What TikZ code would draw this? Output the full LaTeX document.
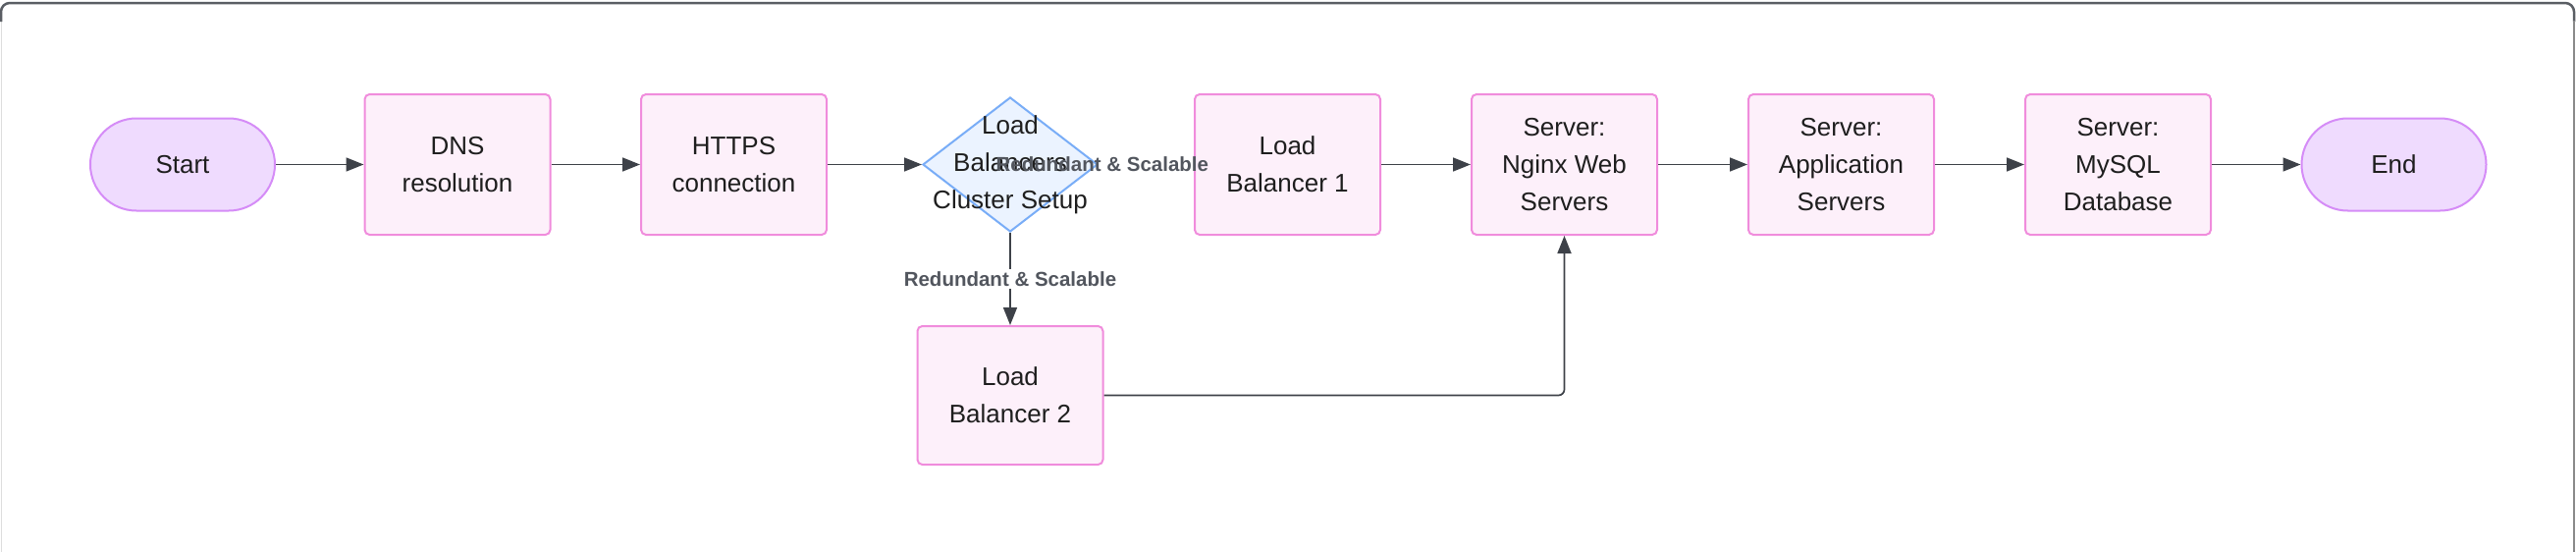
\documentclass[tikz,border=0pt]{standalone}
\usepackage{fontspec}
\setmainfont{Liberation Sans}
\usetikzlibrary{arrows.meta,shapes.geometric}
\definecolor{boxfill}{HTML}{FDF0FA}
\definecolor{boxdraw}{HTML}{F08CDC}
\definecolor{termfill}{HTML}{EFDBFE}
\definecolor{termdraw}{HTML}{D58CF7}
\definecolor{diafill}{HTML}{EBF3FF}
\definecolor{diadraw}{HTML}{79ADF7}
\definecolor{arr}{HTML}{3D4148}
\definecolor{lab}{HTML}{52565E}
\definecolor{txt}{HTML}{1E1E1E}
\definecolor{framedark}{HTML}{5A5E64}
\definecolor{framelight}{HTML}{DDDDDD}
\definecolor{framegray}{HTML}{8A8A8A}
\newcommand\mynodefont{\fontsize{26}{38}\selectfont}
\newcommand\mylabelfont{\fontsize{20.5}{24}\selectfont\bfseries}
\begin{document}
\begin{tikzpicture}[x=1pt,y=-1pt,
  proc/.style={draw=boxdraw,fill=boxfill,line width=2pt,rounded corners=5pt,minimum width=189pt,minimum height=143pt,inner sep=0pt,align=center,font=\mynodefont,text=txt},
  term/.style={draw=termdraw,fill=termfill,line width=2pt,rounded corners=47pt,minimum width=188pt,minimum height=94pt,inner sep=0pt,font=\mynodefont,text=txt},
  flow/.style={draw=arr,line width=1.7pt,-{Triangle[length=18pt,width=14pt]}},
  elabel/.style={font=\mylabelfont,text=lab,inner sep=2pt}]
\useasboundingbox (0,0) rectangle (2624,562);
% frame
\draw[draw=framelight,line width=1pt] (1,562) -- (1,14);
\draw[draw=framedark,line width=2.5pt,rounded corners=9pt] (1,22) -- (1,3) -- (2622,3) -- (2622,22);
\draw[draw=framegray,line width=1.5pt] (2622,21) -- (2622,562);
% nodes
\node[term] (start) at (186,167.5) {Start};
\node[proc] (dns) at (466,167.5) {DNS\\resolution};
\node[proc] (https) at (747.5,167.5) {HTTPS\\connection};
\node[diamond,draw=diadraw,fill=diafill,line width=2pt,minimum width=178pt,minimum height=137pt,inner sep=0pt] (dia) at (1029,167.5) {};
\node[align=center,font=\mynodefont,text=txt,inner sep=0pt] (diat) at (dia.center) {Load\\Balancers\\Cluster Setup};
\node[proc] (lb1) at (1311.5,167.5) {Load\\Balancer 1};
\node[proc,minimum height=141pt] (lb2) at (1029,402.5) {Load\\Balancer 2};
\node[proc] (ngx) at (1593.5,167.5) {Server:\\Nginx Web\\Servers};
\node[proc] (app) at (1875.5,167.5) {Server:\\Application\\Servers};
\node[proc] (db) at (2157.5,167.5) {Server:\\MySQL\\Database};
\node[term] (end) at (2438.5,167.5) {End};
% edges
\draw[flow] (start.east) -- (dns.west);
\draw[flow] (dns.east) -- (https.west);
\draw[flow] (https.east) -- (dia.west);
\path (dia.east) -- node[elabel,pos=0.04] (lab1) {Redundant \& Scalable} (lb1.west);
\draw[flow] (dia.south) -- node[elabel,fill=white,pos=0.5] (lab2) {Redundant \& Scalable} (lb2.north);
\draw[flow] (lb1.east) -- (ngx.west);
\draw[flow,rounded corners=6pt] (lb2.east) -| (ngx.south);
\draw[flow] (ngx.east) -- (app.west);
\draw[flow] (app.east) -- (db.west);
\draw[flow] (db.east) -- (end.west);
\end{tikzpicture}
\end{document}
